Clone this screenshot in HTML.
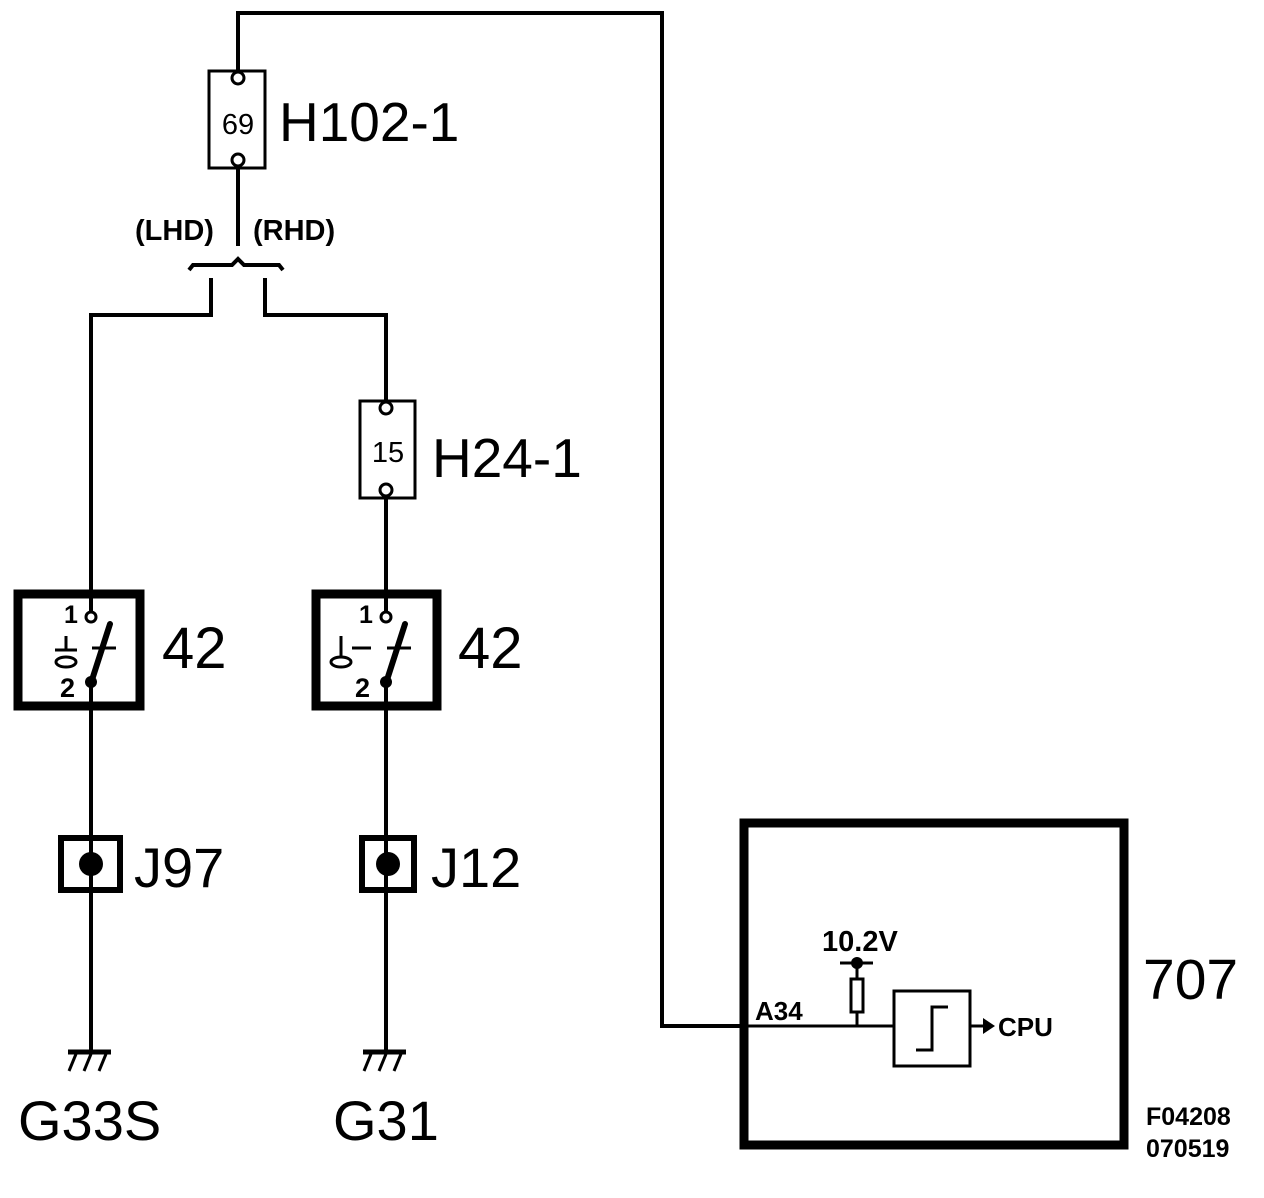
<!DOCTYPE html>
<html><head><meta charset="utf-8"><style>
html,body{margin:0;padding:0;background:#fff;}
svg{display:block;}
text{font-family:"Liberation Sans",Arial,sans-serif;fill:#000;}
.b{font-weight:bold;}
</style></head><body>
<svg width="1264" height="1198" viewBox="0 0 1264 1198" xmlns="http://www.w3.org/2000/svg">
<g fill="none" stroke="#000" stroke-width="4">
<polyline points="238,70 238,13 662,13 662,1026 740,1026"/>
<rect x="209" y="71" width="56" height="97" stroke-width="3"/>
<line x1="238" y1="168" x2="238" y2="246"/>
<path d="M189,270 L193,265 L232,265 L238,259 L244,265 L279,265 L283,270" stroke-width="4"/>
<polyline points="211,278 211,315 91,315 91,612"/>
<polyline points="265,278 265,315 386,315 386,400"/>
<rect x="360" y="401" width="55" height="97" stroke-width="3"/>
<line x1="386" y1="498" x2="386" y2="612"/>
<rect x="18" y="594" width="122" height="112" stroke-width="9"/>
<rect x="316" y="594" width="121" height="112" stroke-width="9"/>
<line x1="91" y1="683" x2="91" y2="1050"/>
<line x1="386" y1="683" x2="386" y2="1050"/>
<rect x="61" y="838" width="59" height="52" stroke-width="6"/>
<rect x="362" y="838" width="52" height="52" stroke-width="6"/>
<rect x="744" y="823" width="380" height="322" stroke-width="9"/>
<line x1="740" y1="1026" x2="893" y2="1026" stroke-width="3"/>
<line x1="857" y1="962" x2="857" y2="1026" stroke-width="3"/>
<line x1="840" y1="963" x2="873" y2="963" stroke-width="3"/>
<rect x="851" y="979" width="12" height="33" stroke-width="3" fill="#fff"/>
<rect x="894" y="991" width="76" height="75" stroke-width="3"/>
<polyline points="916,1050 932,1050 932,1007 948,1007" stroke-width="3"/>
<line x1="970" y1="1026" x2="984" y2="1026" stroke-width="3"/>
</g>
<g fill="#fff" stroke="#000" stroke-width="3">
<circle cx="238" cy="78" r="6"/><circle cx="238" cy="160" r="6"/>
<circle cx="386" cy="408" r="6"/><circle cx="386" cy="490" r="6"/>
<circle cx="91" cy="617" r="5"/><circle cx="386" cy="617" r="5"/>
<ellipse cx="66" cy="662" rx="10" ry="5"/><ellipse cx="341" cy="662" rx="10" ry="5"/>
</g>
<g stroke="#000" fill="none">
<line x1="91" y1="683" x2="110" y2="624" stroke-width="6" stroke-linecap="round"/>
<line x1="92" y1="648" x2="116" y2="648" stroke-width="3"/>
<line x1="66" y1="636" x2="66" y2="650" stroke-width="3"/>
<line x1="55" y1="650" x2="77" y2="650" stroke-width="3"/>
<line x1="386" y1="683" x2="405" y2="624" stroke-width="6" stroke-linecap="round"/>
<line x1="387" y1="648" x2="411" y2="648" stroke-width="3"/>
<line x1="341" y1="636" x2="341" y2="656" stroke-width="3"/>
<line x1="352" y1="648" x2="371" y2="648" stroke-width="3"/>
<line x1="68" y1="1052" x2="111" y2="1052" stroke-width="5"/>
<line x1="76" y1="1054" x2="69" y2="1071" stroke-width="3"/>
<line x1="91" y1="1054" x2="84" y2="1071" stroke-width="3"/>
<line x1="106" y1="1054" x2="99" y2="1071" stroke-width="3"/>
<line x1="363" y1="1052" x2="406" y2="1052" stroke-width="5"/>
<line x1="371" y1="1054" x2="364" y2="1071" stroke-width="3"/>
<line x1="386" y1="1054" x2="379" y2="1071" stroke-width="3"/>
<line x1="401" y1="1054" x2="394" y2="1071" stroke-width="3"/>
</g>
<g fill="#000">
<circle cx="91" cy="682" r="6"/><circle cx="386" cy="682" r="6"/>
<circle cx="91" cy="864" r="12"/><circle cx="388" cy="864" r="12"/>
<circle cx="857" cy="963" r="6"/>
<polygon points="983,1018 995,1026 983,1034"/>
</g>
<text x="238" y="134" font-size="29" text-anchor="middle">69</text>
<text x="388" y="462" font-size="29" text-anchor="middle">15</text>
<text x="279" y="141" font-size="55">H102-1</text>
<text x="432" y="477" font-size="55">H24-1</text>
<text class="b" x="135" y="240" font-size="29">(LHD)</text>
<text class="b" x="253" y="240" font-size="29">(RHD)</text>
<text class="b" x="64" y="623" font-size="25">1</text>
<text class="b" x="60" y="697" font-size="27">2</text>
<text class="b" x="359" y="623" font-size="25">1</text>
<text class="b" x="355" y="697" font-size="27">2</text>
<text x="162" y="668" font-size="58">42</text>
<text x="458" y="668" font-size="58">42</text>
<text x="134" y="887" font-size="56">J97</text>
<text x="431" y="887" font-size="56">J12</text>
<text x="18" y="1140" font-size="56">G33S</text>
<text x="333" y="1140" font-size="56">G31</text>
<text x="1143" y="999" font-size="57">707</text>
<text class="b" x="822" y="951" font-size="29">10.2V</text>
<text class="b" x="755" y="1020" font-size="26">A34</text>
<text class="b" x="998" y="1036" font-size="26">CPU</text>
<text class="b" x="1146" y="1125" font-size="25">F04208</text>
<text class="b" x="1146" y="1157" font-size="25">070519</text>
</svg>
</body></html>
